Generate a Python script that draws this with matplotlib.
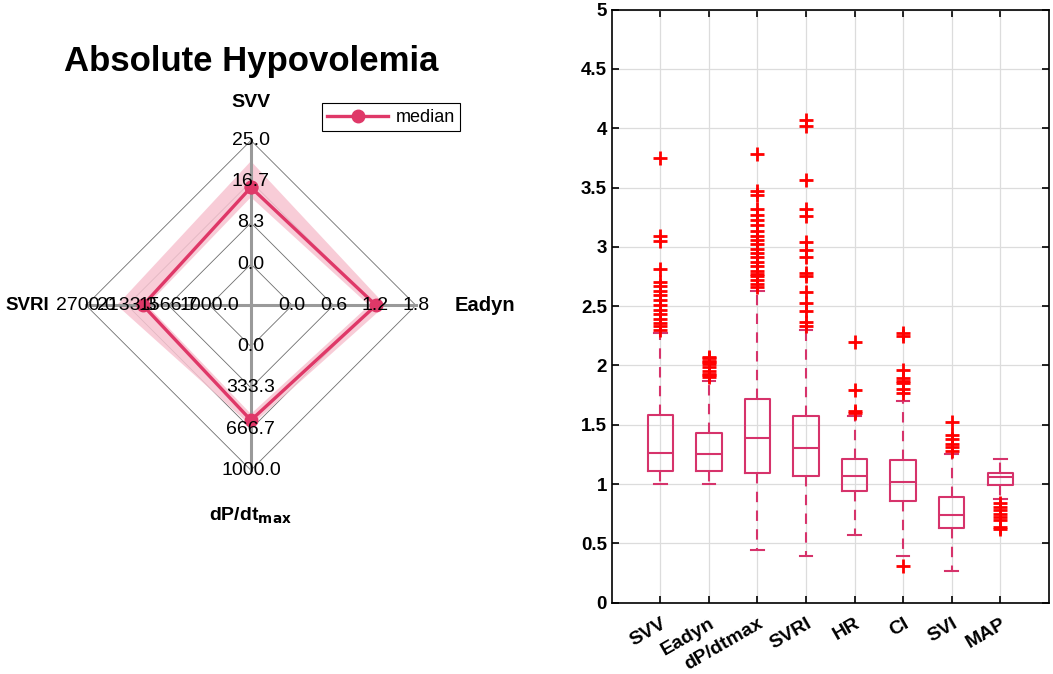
import numpy as np
import matplotlib.pyplot as plt

plt.rcParams['font.family'] = ['Liberation Sans', 'DejaVu Sans']

# Radar chart data (left panel)
radar_axes = ['SVV', 'Eadyn', r'dP/dt$_{\mathbf{max}}$', 'SVRI']
radar_min = [0.0, 0.0, 0.0, 1000.0]
radar_max = [25.0, 1.8, 1000.0, 2700.0]
radar_median = [15.5, 1.22, 596.0, 1918.0]
radar_low = [13.5, 1.12, 545.0, 1860.0]
radar_high = [20.8, 1.36, 640.0, 2275.0]

# Boxplot data (right panel)
box_labels = ['SVV', 'Eadyn', 'dP/dtmax', 'SVRI', 'HR', 'CI', 'SVI', 'MAP']
whis_lo = [1.00, 1.00, 0.44, 0.39, 0.57, 0.39, 0.27, 0.87]
q1 = [1.11, 1.11, 1.09, 1.07, 0.94, 0.855, 0.63, 0.995]
med = [1.26, 1.25, 1.39, 1.30, 1.07, 1.02, 0.74, 1.06]
q3 = [1.58, 1.43, 1.72, 1.57, 1.21, 1.20, 0.89, 1.095]
whis_hi = [2.27, 1.87, 2.63, 2.30, 1.57, 1.70, 1.25, 1.21]
fliers = [
    [2.30, 2.33, 2.36, 2.39, 2.43, 2.47, 2.51, 2.55, 2.59, 2.63, 2.67, 2.70, 2.81, 3.05, 3.09, 3.75],
    [1.90, 1.92, 1.93, 1.95, 1.99, 2.01, 2.03, 2.04, 2.06, 2.07],
    [2.66, 2.69, 2.72, 2.75, 2.77, 2.80, 2.84, 2.87, 2.91, 2.95, 2.98, 3.02, 3.06, 3.09,
     3.13, 3.18, 3.23, 3.27, 3.32, 3.44, 3.47, 3.78],
    [2.33, 2.37, 2.46, 2.53, 2.62, 2.75, 2.78, 2.91, 2.97, 3.04, 3.26, 3.32, 3.56, 4.02, 4.07],
    [1.60, 1.62, 1.79, 2.20],
    [0.31, 1.77, 1.80, 1.85, 1.87, 1.89, 1.96, 2.25, 2.27],
    [1.28, 1.31, 1.34, 1.38, 1.41, 1.52],
    [0.62, 0.64, 0.70, 0.72, 0.75, 0.78, 0.81, 0.84],
]

line_col = '#df3868'
band_col = '#f7c4d1'
box_col = '#d6336b'

fig = plt.figure(figsize=(10.53, 6.74), dpi=100)

# ---------- radar ----------
ax = fig.add_axes([0.0033, 0.180, 0.470, 0.734])
ax.set_xlim(-6, 6)
ax.set_ylim(-6, 6)
ax.set_aspect('equal')
ax.axis('off')

n_rings = 4
angles = np.pi / 2 - np.arange(len(radar_axes)) * 2 * np.pi / len(radar_axes)
dx, dy = np.cos(angles), np.sin(angles)

def to_r(vals):
    vals = np.asarray(vals, float)
    lo, hi = np.array(radar_min), np.array(radar_max)
    return 1 + (n_rings - 1) * (vals - lo) / (hi - lo)

# rings
for k in range(1, n_rings + 1):
    ax.plot(np.append(k * dx, k * dx[0]), np.append(k * dy, k * dy[0]),
            color='#6e6e6e', lw=0.6, zorder=1)

# band between low and high
r_hi, r_lo = to_r(radar_high), to_r(radar_low)
ox, oy = np.append(r_hi * dx, r_hi[0] * dx[0]), np.append(r_hi * dy, r_hi[0] * dy[0])
ix, iy = np.append(r_lo * dx, r_lo[0] * dx[0])[::-1], np.append(r_lo * dy, r_lo[0] * dy[0])[::-1]
ax.fill(np.concatenate([ox, ix]), np.concatenate([oy, iy]), color=band_col, lw=0, alpha=0.85, zorder=2)

# spokes
for i in range(len(radar_axes)):
    ax.plot([0, n_rings * dx[i]], [0, n_rings * dy[i]], color='#9a9a9a', lw=2.2, zorder=3)

# median line
r_med = to_r(radar_median)
ax.plot(np.append(r_med * dx, r_med[0] * dx[0]), np.append(r_med * dy, r_med[0] * dy[0]),
        color=line_col, lw=2.4, marker='o', ms=9, zorder=4, label='median')

# ring labels
for i in range(len(radar_axes)):
    vals = np.linspace(radar_min[i], radar_max[i], n_rings)
    for k, v in enumerate(vals, start=1):
        ax.text(k * dx[i], k * dy[i], '%.1f' % v, ha='center', va='center',
                fontsize=14, zorder=5)

# axis names
ax.text(0, 4.92, radar_axes[0], ha='center', va='center', fontsize=14, fontweight='bold')
ax.text(4.95, 0, radar_axes[1], ha='left', va='center', fontsize=14.5, fontweight='bold')
ax.text(0, -5.1, radar_axes[2], ha='center', va='center', fontsize=14, fontweight='bold')
ax.text(-4.9, 0, radar_axes[3], ha='right', va='center', fontsize=13.5, fontweight='bold')

ax.text(0, 5.92, 'Absolute Hypovolemia', ha='center', va='center', fontsize=25,
        fontweight='bold', clip_on=False)

leg = ax.legend(loc='upper left', bbox_to_anchor=(0.643, 0.908), fontsize=13,
                frameon=True, fancybox=False, edgecolor='black', framealpha=1,
                handlelength=3.4, borderpad=0.3, handletextpad=0.4, borderaxespad=0)
leg.get_frame().set_linewidth(0.8)

# ---------- boxplot ----------
bx = fig.add_axes([0.581, 0.1058, 0.415, 0.880])
stats = []
for i, name in enumerate(box_labels):
    stats.append(dict(label=name, whislo=whis_lo[i], q1=q1[i], med=med[i], q3=q3[i],
                      whishi=whis_hi[i], fliers=fliers[i]))
pos = np.arange(1, len(box_labels) + 1)
bx.bxp(stats, positions=pos, widths=0.52, capwidths=0.26, showfliers=True,
       boxprops=dict(color=box_col, lw=1.5),
       medianprops=dict(color=box_col, lw=1.5),
       whiskerprops=dict(color=box_col, lw=1.5, linestyle=(0, (5, 4))),
       capprops=dict(color=box_col, lw=1.5),
       flierprops=dict(marker='+', markeredgecolor='#ff0000', markersize=10, markeredgewidth=2))
bx.set_xlim(0, len(box_labels) + 1)
bx.set_ylim(0, 5)
yt = np.arange(0, 5.01, 0.5)
bx.set_yticks(yt)
bx.set_yticklabels(['%g' % v for v in yt], fontsize=13.5, fontweight='bold')
bx.set_xticks(pos)
bx.set_xticklabels(box_labels, fontsize=14, fontweight='bold', rotation=30,
                   ha='right', va='top', rotation_mode='anchor')
bx.grid(True, color='#dcdcdc', lw=0.9)
bx.set_axisbelow(True)
bx.tick_params(axis='x', pad=9)
bx.tick_params(direction='in', top=True, right=True, length=5, width=1.2)
for s in bx.spines.values():
    s.set_linewidth(1.2)

fig.savefig('out.png', dpi=100)
